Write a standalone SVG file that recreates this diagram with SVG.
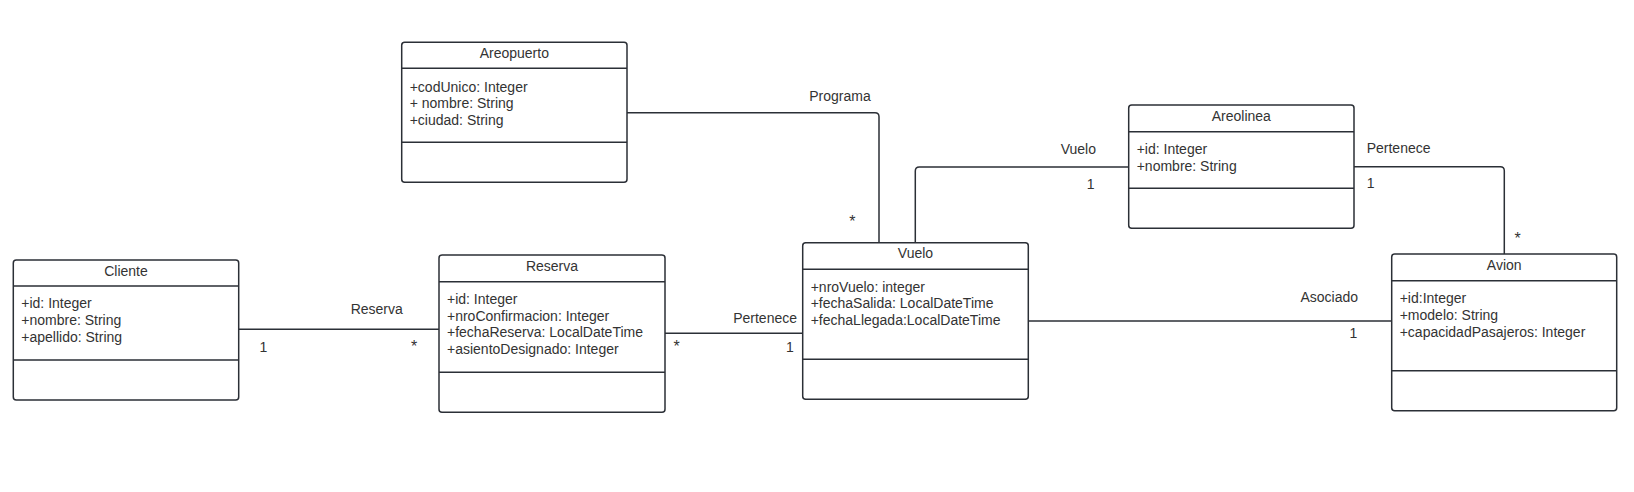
<svg xmlns="http://www.w3.org/2000/svg" width="1634" height="492" viewBox="0 0 1634 492">
<style>
.box{fill:#ffffff;stroke:#2b2f36;stroke-width:1.5}
.div{stroke:#2b2f36;stroke-width:1.5;fill:none}
.con{stroke:#2b2f36;stroke-width:1.5;fill:none}
text{font-family:"Liberation Sans",Arial,sans-serif;font-size:14px;fill:#333333}
.t{text-anchor:middle}
.m{text-anchor:middle}
.e{text-anchor:end}
.star{font-size:16px;text-anchor:middle}
</style>
<rect width="1634" height="492" fill="#ffffff"/>
<g id="connectors">
<path class="con" d="M238.7,329.3 H439"/>
<path class="con" d="M665,333.3 H802.7"/>
<path class="con" d="M627,112.7 H875 Q879,112.7 879,116.7 V242.7"/>
<path class="con" d="M915.3,242.7 V171 Q915.3,167 919.3,167 H1128.7"/>
<path class="con" d="M1354,166.7 H1500.3 Q1504.3,166.7 1504.3,170.7 V254"/>
<path class="con" d="M1028.3,321 H1391.7"/>
<text class="m" x="376.7" y="314">Reserva</text>
<text class="m" x="263.3" y="352">1</text>
<text class="star" x="414" y="352">*</text>
<text class="e" x="797" y="323.3">Pertenece</text>
<text class="star" x="676.7" y="352">*</text>
<text class="m" x="790" y="352">1</text>
<text class="m" x="840" y="100.7">Programa</text>
<text class="star" x="852.3" y="227">*</text>
<text class="m" x="1078.3" y="154">Vuelo</text>
<text class="m" x="1090.7" y="189">1</text>
<text x="1366.7" y="153.3">Pertenece</text>
<text x="1366.7" y="188.3">1</text>
<text class="star" x="1517.7" y="244">*</text>
<text class="m" x="1329.3" y="301.7">Asociado</text>
<text class="m" x="1353.3" y="338.3">1</text>
</g>
<g id="areopuerto">
<rect class="box" x="401.7" y="42.3" width="225.3" height="140" rx="3"/>
<path class="div" d="M401.7,68.3 H627 M401.7,142.3 H627"/>
<text class="t" x="514.3" y="58">Areopuerto</text>
<text x="409.7" y="91.7">+codUnico: Integer</text>
<text x="409.7" y="108.2">+ nombre: String</text>
<text x="409.7" y="124.7">+ciudad: String</text>
</g>
<g id="cliente">
<rect class="box" x="13.3" y="260" width="225.4" height="140" rx="3"/>
<path class="div" d="M13.3,286 H238.7 M13.3,360 H238.7"/>
<text class="t" x="126" y="275.7">Cliente</text>
<text x="21.3" y="308.3">+id: Integer</text>
<text x="21.3" y="325">+nombre: String</text>
<text x="21.3" y="341.7">+apellido: String</text>
</g>
<g id="reserva">
<rect class="box" x="439" y="255" width="226" height="157.3" rx="3"/>
<path class="div" d="M439,281.7 H665 M439,372.3 H665"/>
<text class="t" x="552" y="270.7">Reserva</text>
<text x="447" y="304">+id: Integer</text>
<text x="447" y="320.7">+nroConfirmacion: Integer</text>
<text x="447" y="337.3">+fechaReserva: LocalDateTime</text>
<text x="447" y="354">+asientoDesignado: Integer</text>
</g>
<g id="vuelo">
<rect class="box" x="802.7" y="242.7" width="225.6" height="156.6" rx="3"/>
<path class="div" d="M802.7,269.3 H1028.3 M802.7,359.3 H1028.3"/>
<text class="t" x="915.5" y="258.3">Vuelo</text>
<text x="810.7" y="291.7">+nroVuelo: integer</text>
<text x="810.7" y="308.3">+fechaSalida: LocalDateTime</text>
<text x="810.7" y="325">+fechaLlegada:LocalDateTime</text>
</g>
<g id="areolinea">
<rect class="box" x="1128.7" y="105" width="225.3" height="123.3" rx="3"/>
<path class="div" d="M1128.7,131.7 H1354 M1128.7,188.3 H1354"/>
<text class="t" x="1241.3" y="120.7">Areolinea</text>
<text x="1136.7" y="154">+id: Integer</text>
<text x="1136.7" y="170.7">+nombre: String</text>
</g>
<g id="avion">
<rect class="box" x="1391.7" y="254" width="225" height="156.7" rx="3"/>
<path class="div" d="M1391.7,280.7 H1616.7 M1391.7,370.7 H1616.7"/>
<text class="t" x="1504.2" y="270">Avion</text>
<text x="1399.7" y="303.3">+id:Integer</text>
<text x="1399.7" y="320">+modelo: String</text>
<text x="1399.7" y="336.7">+capacidadPasajeros: Integer</text>
</g>
</svg>
